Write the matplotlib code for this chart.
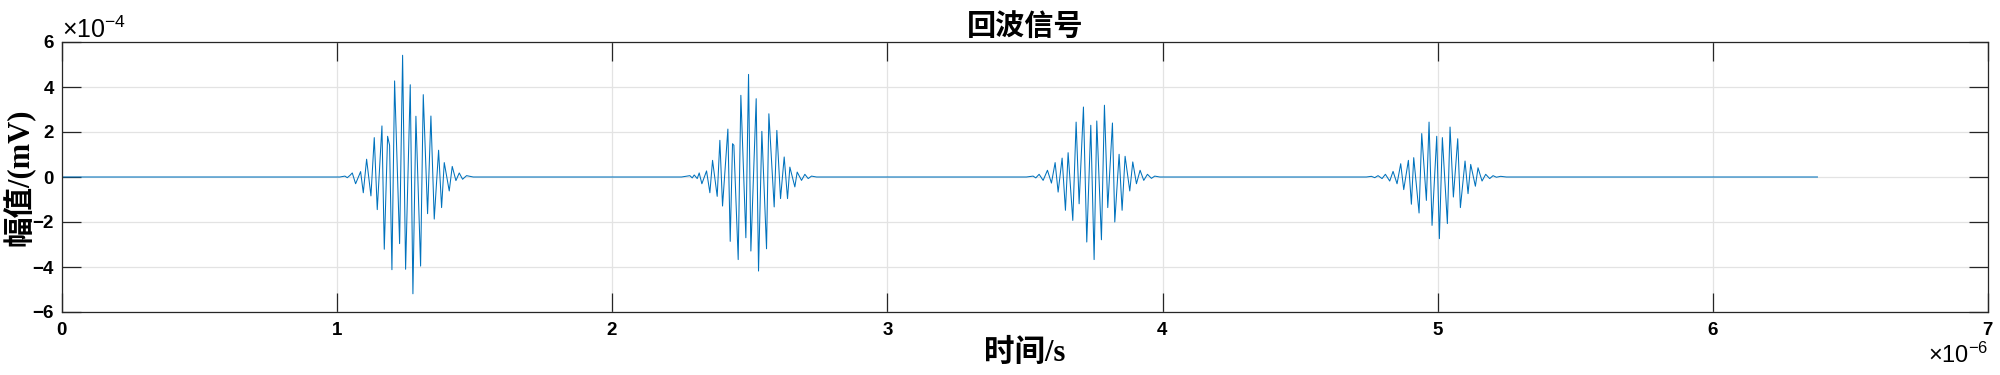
import numpy as np
import matplotlib
matplotlib.use("Agg")
import matplotlib.pyplot as plt
from matplotlib.ticker import ScalarFormatter

plt.rcParams['font.family'] = ['Liberation Sans', 'Noto Sans CJK SC', 'DejaVu Sans']
plt.rcParams['mathtext.fontset'] = 'custom'
plt.rcParams['mathtext.rm'] = 'Liberation Sans'
plt.rcParams['mathtext.it'] = 'Liberation Sans'
plt.rcParams['axes.unicode_minus'] = False

# echo bursts: time in us, amplitude in 1e-4 mV (extrema)
burst1_t = [1.0102, 1.0283, 1.0368, 1.0465, 1.0550, 1.0671, 1.0853, 1.0950, 1.1071, 1.1228,
            1.1349, 1.1458, 1.1628, 1.1713, 1.1834, 1.1906, 1.1991, 1.2088, 1.2270, 1.2379,
            1.2488, 1.2657, 1.2754, 1.2863, 1.3033, 1.3130, 1.3287, 1.3408, 1.3529, 1.3687,
            1.3796, 1.3893, 1.4074, 1.4183, 1.4317, 1.4438, 1.4559, 1.4704, 1.4947]
burst1_a = [0.0, 0.04, -0.03, 0.07, 0.18, -0.30, 0.24, -0.70, 0.79, -0.84,
            1.75, -1.45, 2.27, -3.21, 1.81, 1.41, -4.12, 4.27, -2.96, 5.41,
            -4.10, 4.10, -5.19, 2.70, -3.96, 3.66, -1.63, 2.71, -1.87, 1.19,
            -1.36, 0.64, -0.62, 0.47, -0.16, 0.18, -0.10, 0.06, 0.0]

burst2_t = [2.2517, 2.2820, 2.2905, 2.2978, 2.3087, 2.3159, 2.3256, 2.3426, 2.3547, 2.3644,
            2.3813, 2.3910, 2.4007, 2.4201, 2.4286, 2.4370, 2.4419, 2.4576, 2.4673, 2.4855,
            2.4952, 2.5037, 2.5230, 2.5315, 2.5436, 2.5606, 2.5691, 2.5884, 2.5981, 2.6115,
            2.6248, 2.6369, 2.6454, 2.6635, 2.6720, 2.6878, 2.6999, 2.7120, 2.7241, 2.7423]
burst2_a = [0.0, 0.06, -0.04, 0.09, -0.07, 0.18, -0.30, 0.27, -0.70, 0.74,
            -0.86, 1.63, -1.29, 2.13, -2.86, 1.48, 1.41, -3.67, 3.63, -2.70,
            4.56, -3.29, 3.48, -4.18, 2.03, -3.19, 2.81, -1.33, 2.07, -0.96,
            0.89, -0.96, 0.44, -0.44, 0.22, -0.15, 0.12, -0.07, 0.04, 0.0]

burst3_t = [3.5053, 3.5295, 3.5392, 3.5513, 3.5659, 3.5816, 3.5961, 3.6095, 3.6204, 3.6349,
            3.6470, 3.6567, 3.6737, 3.6858, 3.6967, 3.7124, 3.7245, 3.7391, 3.7512, 3.7609,
            3.7778, 3.7887, 3.8008, 3.8178, 3.8263, 3.8420, 3.8529, 3.8638, 3.8808, 3.8917,
            3.9050, 3.9183, 3.9316, 3.9450, 3.9595, 3.9716, 3.9898]
burst3_a = [0.0, 0.04, -0.04, 0.12, -0.15, 0.30, -0.27, 0.64, -0.67, 0.84,
            -1.48, 1.08, -1.93, 2.44, -1.19, 3.11, -2.89, 2.30, -3.67, 2.49,
            -2.79, 3.19, -1.36, 2.40, -2.00, 1.01, -1.48, 0.92, -0.62, 0.67,
            -0.30, 0.30, -0.15, 0.12, -0.06, 0.04, 0.0]

burst4_t = [4.7408, 4.7590, 4.7711, 4.7832, 4.7977, 4.8098, 4.8256, 4.8377, 4.8522, 4.8655,
            4.8765, 4.8934, 4.9043, 4.9128, 4.9322, 4.9419, 4.9588, 4.9685, 4.9794, 4.9964,
            5.0060, 5.0169, 5.0351, 5.0448, 5.0569, 5.0727, 5.0824, 5.0993, 5.1102, 5.1199,
            5.1369, 5.1465, 5.1611, 5.1744, 5.1889, 5.2011, 5.2132, 5.2289, 5.2495]
burst4_a = [0.0, 0.03, -0.03, 0.06, -0.07, 0.12, -0.18, 0.25, -0.30, 0.59,
            -0.56, 0.74, -1.21, 0.86, -1.60, 1.93, -1.04, 2.44, -2.15, 1.81,
            -2.74, 1.75, -2.07, 2.22, -0.89, 1.70, -1.36, 0.71, -0.74, 0.56,
            -0.41, 0.41, -0.18, 0.12, -0.07, 0.06, -0.01, 0.03, 0.0]

signal_start = 0.0   # us
signal_end = 6.38    # us

#Join the bursts into one record, flat zero in between
t = [signal_start] + burst1_t + burst2_t + burst3_t + burst4_t + [signal_end]
a = [0.0] + burst1_a + burst2_a + burst3_a + burst4_a + [0.0]
t = np.array(t) * 1e-6
a = np.array(a) * 1e-4

fig = plt.figure(figsize=(20, 3.75), dpi=100)
ax = fig.add_axes([0.031, 0.168, 0.963, 0.72])

ax.plot(t, a, color='#0072BD', lw=0.75)

ax.set_xlim(0, 7e-6)
ax.set_ylim(-6e-4, 6e-4)
ax.set_xticks(np.arange(0, 8) * 1e-6)
ax.set_yticks(np.arange(-6, 7, 2) * 1e-4)

for axis in (ax.xaxis, ax.yaxis):
    fmt = ScalarFormatter(useMathText=True)
    fmt.set_powerlimits((-3, 3))
    axis.set_major_formatter(fmt)

ax.grid(True, color='#e3e3e3', lw=0.9)
ax.set_axisbelow(True)
for s in ax.spines.values():
    s.set_color('#262626')
    s.set_linewidth(0.9)

ax.tick_params(direction='in', length=13.5, width=0.9, color='#262626',
               top=True, right=True, labelsize=13.5)
ax.tick_params(axis='x', pad=7)
ax.tick_params(axis='y', pad=5)
for lab in ax.get_xticklabels() + ax.get_yticklabels():
    lab.set_fontweight('bold')
ax.xaxis.get_offset_text().set_fontsize(17)
ax.yaxis.get_offset_text().set_fontsize(18)

ax.set_title('回波信号', fontsize=21, fontweight='bold',
             family=['Noto Sans CJK SC'], pad=5)
ax.set_xlabel('时间/s', fontsize=22, fontweight='bold',
              family=['Liberation Serif', 'Noto Sans CJK SC'], labelpad=0)
ax.set_ylabel('幅值/(mV)', fontsize=22, fontweight='bold',
              family=['Liberation Serif', 'Noto Sans CJK SC'], labelpad=-3)

fig.savefig('out.png', dpi=100)
